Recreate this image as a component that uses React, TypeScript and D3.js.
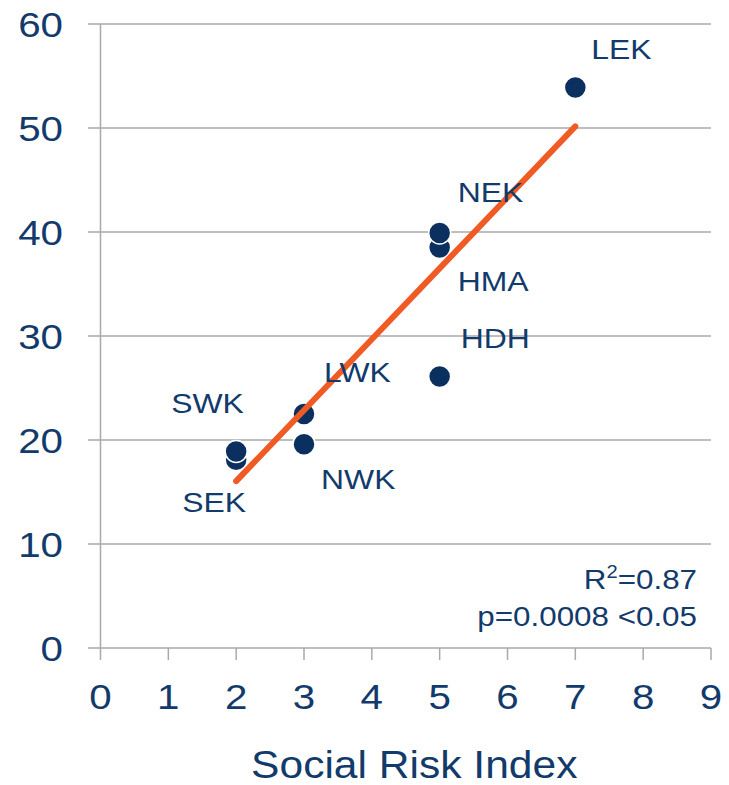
import React from "react";
import * as d3 from "d3";

const regions = ["LEK", "NEK", "HMA", "HDH", "LWK", "NWK", "SWK", "SEK"];
const riskIndex = [7, 5, 5, 5, 3, 3, 2, 2];
const outcome = [53.9, 39.9, 38.5, 26.1, 22.5, 19.6, 18.9, 18.1];
const labelDx = [16, 18, 18, 21, 20, 17, -65, -54];
const labelDy = [-28, -31, 43, -29, -32, 45, -38, 52];
const xTicks = [0, 1, 2, 3, 4, 5, 6, 7, 8, 9];
const yTicks = [0, 10, 20, 30, 40, 50, 60];
const xTitle = "Social Risk Index";
const statR2 = "0.87";
const statP = "p=0.0008 <0.05";

const W = 729;
const H = 785;
const TEXT = "#123a6b";
const DOT = "#0b2f5e";
const ORANGE = "#f05a24";
const GRID = "#a9a9a9";
const SX = 1.12;
const FONT = "Liberation Sans, Arial, sans-serif";

function Txt({ x, y, size, anchor = "start", children }: any) {
  return (
    <text
      transform={`translate(${x},${y}) scale(${SX},1)`}
      fontSize={size}
      fontFamily={FONT}
      fill={TEXT}
      textAnchor={anchor}
    >
      {children}
    </text>
  );
}

export default function App() {
  const x = d3.scaleLinear().domain([0, 9]).range([100.5, 711]);
  const y = d3.scaleLinear().domain([0, 60]).range([648, 24]);

  // least-squares fit
  const mx = d3.mean(riskIndex) as number;
  const my = d3.mean(outcome) as number;
  let sxy = 0;
  let sxx = 0;
  riskIndex.forEach((v, i) => {
    sxy += (v - mx) * (outcome[i] - my);
    sxx += (v - mx) * (v - mx);
  });
  const slope = sxy / sxx;
  const icpt = my - slope * mx;
  const x0 = d3.min(riskIndex) as number;
  const x1 = d3.max(riskIndex) as number;
  const fit = d3.line<number>().x((d) => x(d)).y((d) => y(icpt + slope * d));

  const order = d3.range(regions.length).reverse();

  return (
    <svg
      width={W}
      height={H}
      style={{ position: "absolute", left: 0, top: 0, background: "#fff" }}
    >
      {yTicks.map((t) => (
        <line key={"g" + t} x1={88} x2={711} y1={y(t)} y2={y(t)} stroke={GRID} strokeWidth={1.5} />
      ))}
      <line x1={x(0)} x2={x(0)} y1={y(60)} y2={y(0)} stroke={GRID} strokeWidth={1.5} />
      {xTicks.map((t) => (
        <line key={"xt" + t} x1={x(t)} x2={x(t)} y1={y(0)} y2={y(0) + 12} stroke={GRID} strokeWidth={1.5} />
      ))}
      {yTicks.map((t) => (
        <Txt key={"yl" + t} x={63} y={y(t) + 13} size={36} anchor="end">
          {t}
        </Txt>
      ))}
      {xTicks.map((t) => (
        <Txt key={"xl" + t} x={x(t)} y={709} size={36} anchor="middle">
          {t}
        </Txt>
      ))}
      <Txt x={(x(0) + x(9)) / 2 + 8.5} y={778} size={38} anchor="middle">
        {xTitle}
      </Txt>
      {order.map((i) => (
        <circle key={"c" + i} cx={x(riskIndex[i])} cy={y(outcome[i])} r={11} fill={DOT} stroke="#fff" strokeWidth={1.5} />
      ))}
      <path d={fit([x0, x1]) || ""} stroke={ORANGE} strokeWidth={6} strokeLinecap="round" fill="none" />
      {regions.map((r, i) => (
        <Txt key={"l" + r} x={x(riskIndex[i]) + labelDx[i]} y={y(outcome[i]) + labelDy[i]} size={28.5}>
          {r}
        </Txt>
      ))}
      <Txt x={697} y={589} size={28} anchor="end">
        R<tspan fontSize={18} dy={-11}>2</tspan>
        <tspan dy={11}>={statR2}</tspan>
      </Txt>
      <Txt x={697} y={626} size={28} anchor="end">
        {statP}
      </Txt>
    </svg>
  );
}
